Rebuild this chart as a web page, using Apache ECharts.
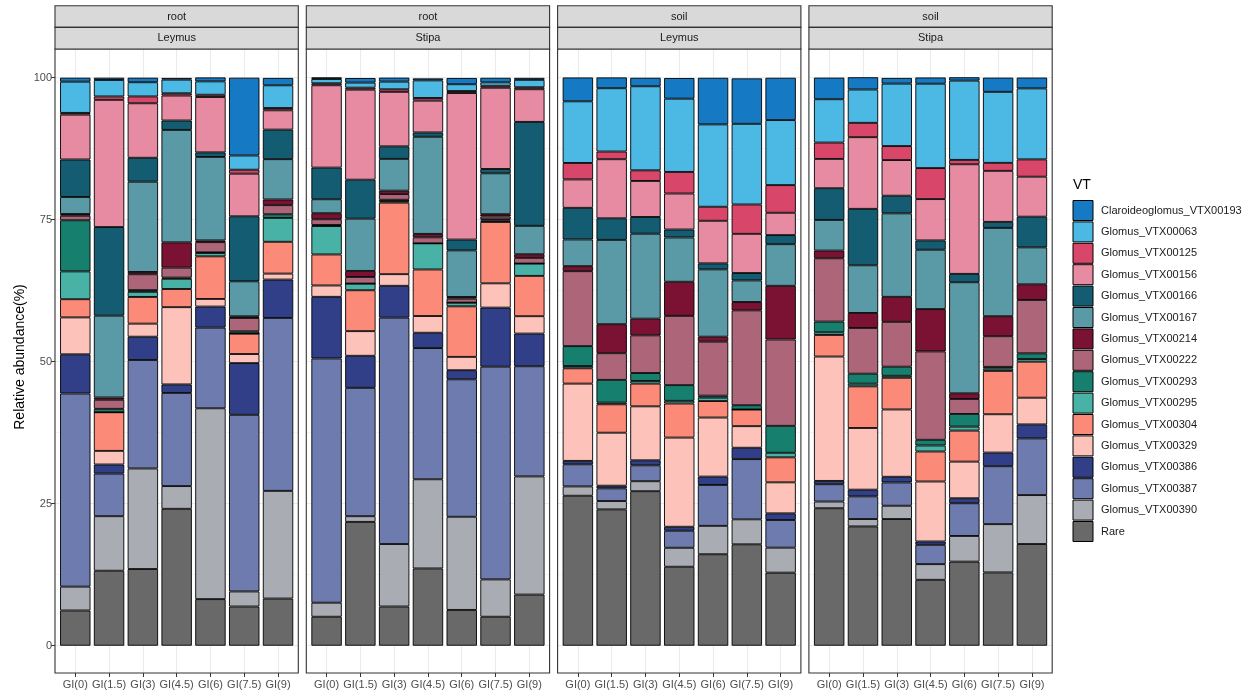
<!DOCTYPE html>
<html><head><meta charset="utf-8">
<script src="https://cdn.jsdelivr.net/npm/echarts@6/dist/echarts.min.js"></script>
<style>html,body{margin:0;padding:0;background:#fff}#c{width:1250px;height:693px}</style>
</head><body><div id="c"></div>
<script>
// ---------------- DATA ----------------
const categories = ['GI(0)','GI(1.5)','GI(3)','GI(4.5)','GI(6)','GI(7.5)','GI(9)'];
const facetCompartment = ['root','root','soil','soil'];
const facetHost = ['Leymus','Stipa','Leymus','Stipa'];
const yTickValues = [0, 25, 50, 75, 100];
// Each array: 28 values = 4 facets x 7 grazing levels (root-Leymus, root-Stipa, soil-Leymus, soil-Stipa)
const Claroideoglomus_VTX00193 = [0.7,0.4,0.8,0.3,0.7,13.7,1.3, 0.3,0.8,0.7,0.35,1.1,0.8,0.35, 4.2,1.9,1.5,3.63,8.2,8.0,7.45, 3.8,2.16,1.0,1.1,0.6,2.5,1.9];
const Glomus_VTX00063 = [5.5,2.9,2.5,2.4,2.35,2.5,4.0, 0.75,0.9,1.35,3.1,1.2,0.6,1.3, 10.85,11.15,14.8,12.9,14.5,14.2,11.45, 7.63,5.87,11.0,14.85,13.96,12.5,12.5];
const Glomus_VTX00125 = [0.3,0.6,1.2,0.4,0.4,0.7,0.4, 0.35,0.35,0.45,0.47,0.35,0.35,0.35, 2.9,1.35,1.87,3.8,2.47,5.17,4.87, 2.88,2.52,2.46,5.46,0.77,1.41,3.05];
const Glomus_VTX00156 = [7.9,22.4,9.6,4.4,9.75,7.5,3.4, 14.5,15.85,9.6,5.6,25.8,14.3,5.75, 5.0,10.4,6.34,6.34,7.5,6.9,3.93, 5.16,12.62,6.28,7.28,19.3,8.98,7.04];
const Glomus_VTX00166 = [6.6,15.6,4.2,1.65,0.8,11.45,5.2, 5.57,6.86,2.2,0.76,1.9,0.76,18.3, 5.57,3.8,2.94,1.4,1.05,1.3,1.6, 5.58,9.93,3.1,1.64,1.47,1.06,5.4];
const Glomus_VTX00167 = [3.0,14.4,15.9,19.8,14.7,6.15,7.1, 2.46,9.2,5.6,17.1,8.2,7.2,5.0, 4.7,14.85,14.96,7.8,11.86,3.8,7.33, 5.4,8.4,14.7,10.45,19.55,15.55,6.5];
const Glomus_VTX00214 = [0.3,0.4,0.4,4.45,0.3,0.3,1.0, 1.06,1.06,0.6,0.6,0.3,0.4,0.64, 0.88,5.1,2.94,6.0,0.88,1.47,9.45, 1.35,2.64,4.4,7.45,1.0,3.52,2.76];
const Glomus_VTX00222 = [0.8,1.6,2.8,1.76,1.8,2.35,1.6, 1.0,1.17,1.0,1.06,0.7,0.5,1.0, 13.2,4.7,6.63,12.2,9.5,16.7,15.2, 11.15,8.05,7.9,15.56,2.64,5.4,9.4];
const Glomus_VTX00293 = [9.0,0.6,0.3,0.2,0.1,0.4,0.65, 0.2,0,0.25,0,0,0.2,0, 3.5,4.0,1.4,2.76,0.35,0.76,4.75, 1.88,1.76,1.6,1.0,2.23,0.3,1.0];
const Glomus_VTX00295 = [4.9,0,0.9,1.8,0.6,0,4.2, 5.0,1.17,0.25,4.6,0.65,0.27,2.17, 0.4,0.3,0.47,0.47,0.6,0,0.8, 0.47,0.47,0.35,1.06,0.7,0.41,0.47];
const Glomus_VTX00304 = [3.2,6.8,4.7,3.2,7.5,3.6,5.6, 5.46,7.2,12.6,8.2,8.9,10.8,7.1, 2.7,5.0,4.0,6.0,2.9,2.93,4.4, 3.8,7.33,5.58,5.28,5.46,7.63,6.34];
const Glomus_VTX00329 = [6.5,2.4,2.3,13.6,1.35,1.6,1.05, 2.0,4.34,2.05,2.94,2.35,4.28,3.06, 13.6,9.33,9.5,15.7,10.4,3.8,5.46, 21.9,10.86,11.85,10.56,6.45,6.75,4.7];
const Glomus_VTX00386 = [6.9,1.6,4.1,1.5,3.7,9.1,6.75, 10.85,5.64,5.6,2.7,1.6,10.4,5.75, 0.6,0.47,0.88,0.7,1.47,2.0,1.17, 0.58,1.17,1.0,0.59,0.88,2.4,2.46];
const Glomus_VTX00387 = [34.0,7.5,19.1,16.4,14.2,31.1,30.45, 43.0,22.6,39.86,23.1,24.2,37.45,19.4, 3.9,2.23,2.8,3.0,7.2,10.6,4.87, 3.05,4.0,4.1,3.4,5.76,10.2,9.98];
const Glomus_VTX00390 = [4.2,9.6,17.7,4.0,33.6,2.65,18.96, 2.47,1.0,11.0,15.7,16.4,6.57,20.8, 1.64,1.47,1.76,3.34,5.0,4.4,4.4, 1.18,1.3,2.34,2.76,4.52,8.5,8.62];
const Rare = [6.2,13.2,13.5,24.1,8.2,6.9,8.3, 5.1,21.8,6.9,13.6,6.3,5.1,9.0, 26.4,24.0,27.2,13.9,16.1,17.85,12.86, 24.2,21.0,22.3,11.6,14.8,12.9,17.9];

// legend order (top to bottom)
const vtNames = ['Claroideoglomus_VTX00193','Glomus_VTX00063','Glomus_VTX00125','Glomus_VTX00156',
  'Glomus_VTX00166','Glomus_VTX00167','Glomus_VTX00214','Glomus_VTX00222','Glomus_VTX00293',
  'Glomus_VTX00295','Glomus_VTX00304','Glomus_VTX00329','Glomus_VTX00386','Glomus_VTX00387',
  'Glomus_VTX00390','Rare'];
const vtValues = {
  'Claroideoglomus_VTX00193': Claroideoglomus_VTX00193, 'Glomus_VTX00063': Glomus_VTX00063,
  'Glomus_VTX00125': Glomus_VTX00125, 'Glomus_VTX00156': Glomus_VTX00156,
  'Glomus_VTX00166': Glomus_VTX00166, 'Glomus_VTX00167': Glomus_VTX00167,
  'Glomus_VTX00214': Glomus_VTX00214, 'Glomus_VTX00222': Glomus_VTX00222,
  'Glomus_VTX00293': Glomus_VTX00293, 'Glomus_VTX00295': Glomus_VTX00295,
  'Glomus_VTX00304': Glomus_VTX00304, 'Glomus_VTX00329': Glomus_VTX00329,
  'Glomus_VTX00386': Glomus_VTX00386, 'Glomus_VTX00387': Glomus_VTX00387,
  'Glomus_VTX00390': Glomus_VTX00390, 'Rare': Rare
};

// ---------------- STYLE ----------------
const palette = {
  'Claroideoglomus_VTX00193':'#1679C3','Glomus_VTX00063':'#4CB8E4','Glomus_VTX00125':'#D8476A',
  'Glomus_VTX00156':'#E68BA2','Glomus_VTX00166':'#135C71','Glomus_VTX00167':'#5A99A6',
  'Glomus_VTX00214':'#7B1133','Glomus_VTX00222':'#AD6579','Glomus_VTX00293':'#177F6E',
  'Glomus_VTX00295':'#47B2A5','Glomus_VTX00304':'#FC8A78','Glomus_VTX00329':'#FDC2BA',
  'Glomus_VTX00386':'#303F87','Glomus_VTX00387':'#6E7BAE','Glomus_VTX00390':'#A9ACB3','Rare':'#696969'
};
const PL = 55, PW = 243.3, STRIDE = 251.3, PTOP = 49, PBOT = 673, Y100 = 77.7, Y0 = 645.7;
const STRIP_TOP = 5.7, STRIP_H = 21.65;
const u = PW / 7.2;
const GRID_COL = '#EBEBEB', BORDER = '#333333', TXT = '#4D4D4D';
const FONT = 'Liberation Sans, Arial, sans-serif';

const grids = [], xAxes = [], yAxes = [], series = [], graphics = [];
for (let p = 0; p < 4; p++) {
  const pl = PL + p * STRIDE;
  // grid A: vertical grid lines + x labels (full panel height)
  const gA = grids.length;
  grids.push({left: pl + 0.6 * u, top: PTOP, width: 6 * u, height: PBOT - PTOP});
  xAxes.push({type:'category', gridIndex:gA, data:categories, boundaryGap:false,
    axisLine:{show:false},
    axisTick:{show:true, length:4, lineStyle:{color:BORDER, width:1}},
    axisLabel:{color:TXT, fontSize:11, margin:6, fontFamily:FONT, interval:0},
    splitLine:{show:true, lineStyle:{color:GRID_COL, width:1.1}}});
  yAxes.push({type:'value', gridIndex:gA, min:0, max:1, show:false, splitLine:{show:false}});
  // grid C: horizontal grid lines + y axis (full panel width, 0..100)
  const gC = grids.length;
  grids.push({left: pl, top: Y100, width: PW, height: Y0 - Y100});
  xAxes.push({type:'value', gridIndex:gC, min:0, max:1, show:false, splitLine:{show:false}});
  yAxes.push({type:'value', gridIndex:gC, min:yTickValues[0], max:yTickValues[yTickValues.length-1], interval:25,
    axisLine:{show:false},
    axisTick:{show:p===0, length:4, lineStyle:{color:BORDER, width:1}},
    axisLabel:{show:p===0, color:TXT, fontSize:11, margin:3, fontFamily:FONT},
    splitLine:{show:true, lineStyle:{color:GRID_COL, width:1.1}},
    minorTick:{show:false, splitNumber:2},
    minorSplitLine:{show:true, lineStyle:{color:GRID_COL, width:0.55}}});
  // grid B: bars
  const gB = grids.length;
  grids.push({left: pl + 0.1 * u, top: Y100, width: 7 * u, height: Y0 - Y100});
  xAxes.push({type:'category', gridIndex:gB, data:categories, show:false, boundaryGap:true});
  yAxes.push({type:'value', gridIndex:gB, min:0, max:100, show:false, splitLine:{show:false}});
  const stackOrder = vtNames.slice().reverse(); // Rare at bottom
  stackOrder.forEach(name => {
    series.push({
      name, type:'bar', stack:'s' + p, xAxisIndex:gB, yAxisIndex:gB,
      barWidth:'90%',
      data: vtValues[name].slice(p * 7, p * 7 + 7),
      itemStyle:{color:palette[name], borderColor:'#000', borderWidth:0.9},
      emphasis:{disabled:true}, animation:false
    });
  });
  // panel border
  graphics.push({type:'rect', z:100, silent:true,
    shape:{x:pl, y:PTOP, width:PW, height:PBOT - PTOP},
    style:{fill:'none', stroke:BORDER, lineWidth:1.1}});
  // strips
  [facetCompartment[p], facetHost[p]].forEach((lab, k) => {
    graphics.push({type:'rect', z:100, silent:true,
      shape:{x:pl, y:STRIP_TOP + k * STRIP_H, width:PW, height:STRIP_H},
      style:{fill:'#D9D9D9', stroke:BORDER, lineWidth:1.1}});
    graphics.push({type:'text', z:101, silent:true,
      x: pl + PW / 2, y: STRIP_TOP + k * STRIP_H + STRIP_H / 2,
      style:{text:lab, fill:'#1A1A1A', fontSize:11, align:'center', verticalAlign:'middle', fontFamily:FONT}});
  });
}
// y-axis title
graphics.push({type:'text', silent:true, x:20, y:357, rotation:Math.PI / 2,
  style:{text:'Relative abundance(%)', fill:'#000', fontSize:14, align:'center', verticalAlign:'middle', fontFamily:FONT}});
// legend title
graphics.push({type:'text', silent:true, x:1073, y:185,
  style:{text:'VT', fill:'#000', fontSize:14, align:'left', verticalAlign:'middle', fontFamily:FONT}});

const chart = echarts.init(document.getElementById('c'), null, {renderer:'canvas'});
chart.setOption({
  backgroundColor:'#ffffff',
  animation:false,
  grid:grids, xAxis:xAxes, yAxis:yAxes, series,
  legend:{data:vtNames, orient:'vertical', left:1072.5, top:200, itemWidth:20, itemHeight:20, itemGap:0.4,
    icon:'rect', padding:0, selectedMode:false,
    itemStyle:{borderColor:'#000', borderWidth:1},
    textStyle:{fontSize:11, color:'#1A1A1A', padding:[0,0,0,3], fontFamily:FONT}},
  graphic:graphics
});
</script></body></html>
